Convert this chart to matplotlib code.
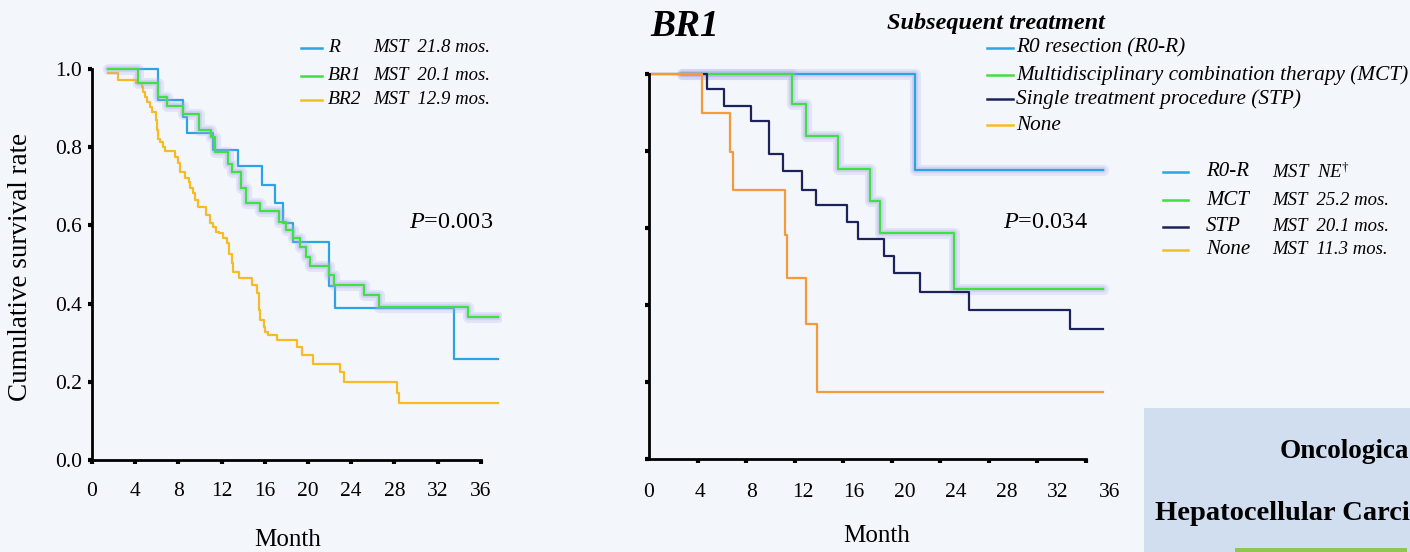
import numpy as np
import matplotlib.pyplot as plt
from matplotlib.lines import Line2D
from matplotlib.patches import Rectangle

plt.rcParams['font.family'] = ['Liberation Serif', 'DejaVu Serif']
plt.rcParams['mathtext.fontset'] = 'custom'
plt.rcParams['mathtext.rm'] = 'Liberation Serif'
plt.rcParams['mathtext.it'] = 'Liberation Serif:italic'
plt.rcParams['mathtext.bf'] = 'Liberation Serif:bold'

# ---- left panel: resectability groups (months, survival after each step)
r_t = [1.5, 6.1, 8.4, 8.8, 11.2, 13.5, 15.7, 16.9, 17.7, 18.6, 21.9, 22.5, 33.5, 37.6]
r_s = [1.0, 0.921, 0.878, 0.836, 0.793, 0.753, 0.703, 0.657, 0.605, 0.557, 0.445, 0.390, 0.258, 0.258]

br1_t = [1.5, 4.3, 6.1, 6.9, 8.4, 9.9, 11.0, 11.4, 12.6, 13.0, 13.8, 14.3, 15.6, 17.3, 18.0,
         18.6, 19.3, 19.8, 20.2, 21.9, 22.4, 25.2, 26.6, 34.8, 37.6]
br1_s = [1.0, 0.965, 0.929, 0.905, 0.884, 0.844, 0.827, 0.788, 0.758, 0.737, 0.696, 0.657, 0.638, 0.610, 0.588,
         0.567, 0.545, 0.520, 0.497, 0.473, 0.448, 0.422, 0.392, 0.367, 0.367]

br2_t = [1.5, 2.4, 4.1, 4.6, 4.75, 4.9, 5.13, 5.37, 5.53, 5.9, 6.0, 6.1, 6.3, 6.6, 6.8, 7.7, 8.0, 8.15,
         8.6, 8.96, 9.07, 9.33, 9.5, 9.85, 10.6, 10.93, 11.23, 11.48, 11.79, 12.16, 12.47, 12.7, 12.95,
         13.1, 13.6, 14.8, 15.3, 15.5, 15.6, 15.9, 16.0, 16.3, 17.1, 18.96, 19.4, 20.5, 22.96, 23.3,
         28.2, 28.4, 37.6]
br2_s = [0.99, 0.972, 0.963, 0.953, 0.941, 0.929, 0.916, 0.903, 0.890, 0.870, 0.844, 0.822, 0.814, 0.801,
         0.791, 0.776, 0.759, 0.737, 0.720, 0.712, 0.695, 0.682, 0.665, 0.648, 0.626, 0.605, 0.597, 0.584,
         0.580, 0.569, 0.554, 0.528, 0.503, 0.482, 0.465, 0.448, 0.426, 0.384, 0.358, 0.341, 0.328, 0.319,
         0.307, 0.290, 0.269, 0.246, 0.226, 0.200, 0.171, 0.145, 0.145]

# ---- middle panel: BR1 by subsequent treatment
r0_t = [2.7, 21.9, 37.4]
r0_s = [1.0, 0.751, 0.751]
mct_t = [2.7, 11.75, 12.9, 15.54, 18.2, 19.03, 25.15, 37.4]
mct_s = [1.0, 0.921, 0.840, 0.753, 0.671, 0.586, 0.442, 0.442]
stp_t = [0, 4.8, 6.18, 8.37, 9.88, 11.01, 12.58, 13.76, 16.28, 17.24, 19.36, 20.18, 22.3, 26.4, 34.7, 37.4]
stp_s = [1.0, 0.960, 0.918, 0.879, 0.791, 0.747, 0.700, 0.659, 0.616, 0.571, 0.527, 0.484, 0.435, 0.387, 0.338, 0.338]
none_t = [0, 4.34, 6.67, 6.95, 11.2, 11.34, 12.93, 13.8, 37.4]
none_s = [1.0, 0.898, 0.798, 0.699, 0.582, 0.469, 0.351, 0.175, 0.175]

left_names = ['R', 'BR1', 'BR2']
left_mst = ['MST  21.8 mos.', 'MST  20.1 mos.', 'MST  12.9 mos.']
trt_long = ['R0 resection (R0-R)', 'Multidisciplinary combination therapy (MCT)',
            'Single treatment procedure (STP)', 'None']
trt_short = ['R0-R', 'MCT', 'STP', 'None']
trt_mst = [r'MST  NE$^{\dagger}$', 'MST  25.2 mos.', 'MST  20.1 mos.', 'MST  11.3 mos.']
month_ticks = [0, 4, 8, 12, 16, 20, 24, 28, 32, 36]
surv_ticks = [0.0, 0.2, 0.4, 0.6, 0.8, 1.0]

c_blue = '#2aa4e2'
c_green = '#3fe03f'
c_yellow = '#f6bb25'
c_orange = '#f59a3a'
c_navy = '#1b2358'
glow = '#a8a8ec'
bg = '#f3f6fb'

fig = plt.figure(figsize=(14.1, 5.52), dpi=100, facecolor=bg)
W, H = 1410, 552


def ax_at(x0, y0, w, h):
    return fig.add_axes([x0 / W, 1 - (y0 + h) / H, w / W, h / H])


def style(ax):
    ax.set_facecolor('none')
    for s in ['top', 'right']:
        ax.spines[s].set_visible(False)
    for s in ['left', 'bottom']:
        ax.spines[s].set_linewidth(2)
    ax.spines['bottom'].set_bounds(0, 36)
    ax.spines['left'].set_bounds(0, 1.0)
    ax.set_xlim(0, 38)
    ax.set_ylim(0, 1.02)


def km(ax, t, s, col, lw=1.6, halo=False):
    if halo:
        ax.step(t, s, where='post', color=glow, lw=8, alpha=0.22, solid_capstyle='round')
        ax.step(t, s, where='post', color=glow, lw=4.5, alpha=0.3, solid_capstyle='round')
    ax.step(t, s, where='post', color=col, lw=lw)


# left
ax1 = ax_at(92, 61.2, 410.4, 398.8)
style(ax1)
km(ax1, br2_t, br2_s, c_yellow)
km(ax1, r_t, r_s, c_blue)
km(ax1, br1_t, br1_s, c_green, halo=True)
ax1.set_xticks(month_ticks)
ax1.set_yticks(surv_ticks)
ax1.set_yticklabels(['%.1f' % v for v in surv_ticks])
ax1.tick_params(axis='x', direction='out', length=3, width=3, pad=13, labelsize=15.5)
ax1.tick_params(axis='y', direction='out', length=3, width=3, pad=4, labelsize=15.5)

# middle
ax2 = ax_at(649, 66.3, 461.3, 392.7)
style(ax2)
km(ax2, r0_t, r0_s, c_blue, halo=True)
km(ax2, mct_t, mct_s, c_green, halo=True)
km(ax2, stp_t, stp_s, c_navy)
km(ax2, none_t, none_s, c_orange)
# tick marks at true months, labels spread slightly wider as in the slide
ax2.set_xticks(month_ticks, minor=True)
ax2.set_xticks([m * 1.053 for m in month_ticks])
ax2.set_xticklabels([str(m) for m in month_ticks])
ax2.set_yticks(surv_ticks)
ax2.set_yticklabels([])
ax2.tick_params(axis='x', which='major', length=0, pad=17, labelsize=15.5)
ax2.tick_params(axis='x', which='minor', direction='out', length=3, width=3)
ax2.tick_params(axis='y', direction='out', length=3, width=3)

# axis titles
fig.text(21 / W, 1 - 267 / H, 'Cumulative survival rate', rotation=90, ha='center', va='center', fontsize=19.5)
fig.text(288 / W, 1 - 540 / H, 'Month', ha='center', va='center', fontsize=18)
fig.text(877 / W, 1 - 536 / H, 'Month', ha='center', va='center', fontsize=18)
fig.text(409 / W, 1 - 223 / H, '$P$=0.003', ha='left', va='center', fontsize=17.5)
fig.text(1003 / W, 1 - 223 / H, '$P$=0.034', ha='left', va='center', fontsize=17.5)
fig.text(650 / W, 1 - 27 / H, 'BR1', ha='left', va='center', fontsize=27, fontweight='bold', style='italic')

# left legend
for i, (nm, ms, col) in enumerate(zip(left_names, left_mst, [c_blue, c_green, c_yellow])):
    y = 1 - [48, 76, 100][i] / H
    fig.add_artist(Line2D([301 / W, 322 / W], [y, y], color=col, lw=1.8))
    fig.text(328 / W, y, nm, ha='left', va='center', fontsize=14, style='italic')
    fig.text(373 / W, y, ms, ha='left', va='center', fontsize=13.5, style='italic')

# treatment legend (long names)
fig.text(887 / W, 1 - 23 / H, 'Subsequent treatment', ha='left', va='center', fontsize=17.5,
         fontweight='bold', style='italic')
for i, (nm, col) in enumerate(zip(trt_long, [c_blue, c_green, c_navy, c_yellow])):
    y = 1 - [48, 75, 99, 125][i] / H
    fig.add_artist(Line2D([987 / W, 1013 / W], [y, y], color=col, lw=1.8))
    fig.text(1016 / W, y, nm, ha='left', va='center', fontsize=15.3, style='italic')

# treatment legend (short names + MST)
for i, (nm, ms, col) in enumerate(zip(trt_short, trt_mst, [c_blue, c_green, c_navy, c_yellow])):
    y = 1 - [172, 200, 227, 250][i] / H
    fig.add_artist(Line2D([1163 / W, 1188 / W], [y, y], color=col, lw=1.8))
    fig.text(1206 / W, y, nm, ha='left', va='center', fontsize=15, style='italic')
    fig.text(1272 / W, y, ms, ha='left', va='center', fontsize=13.5, style='italic')

# slide box bottom right, only the part visible in the crop
fig.add_artist(Rectangle((1144 / W, 0), (W - 1144) / W, (H - 408) / H, transform=fig.transFigure,
                         facecolor='#d0def0', edgecolor='none', zorder=-1))
fig.add_artist(Rectangle((1235 / W, 0), (1407 - 1235) / W, 4 / H, transform=fig.transFigure,
                         facecolor='#8cc850', edgecolor='none'))
fig.text(1280 / W, 1 - 452 / H, 'Oncologica', ha='left', va='center', fontsize=19.5, fontweight='bold')
fig.text(1155 / W, 1 - 513 / H, 'Hepatocellular Carci', ha='left', va='center', fontsize=20.5,
         fontweight='bold')

fig.savefig('out.png', dpi=100, facecolor=bg)
